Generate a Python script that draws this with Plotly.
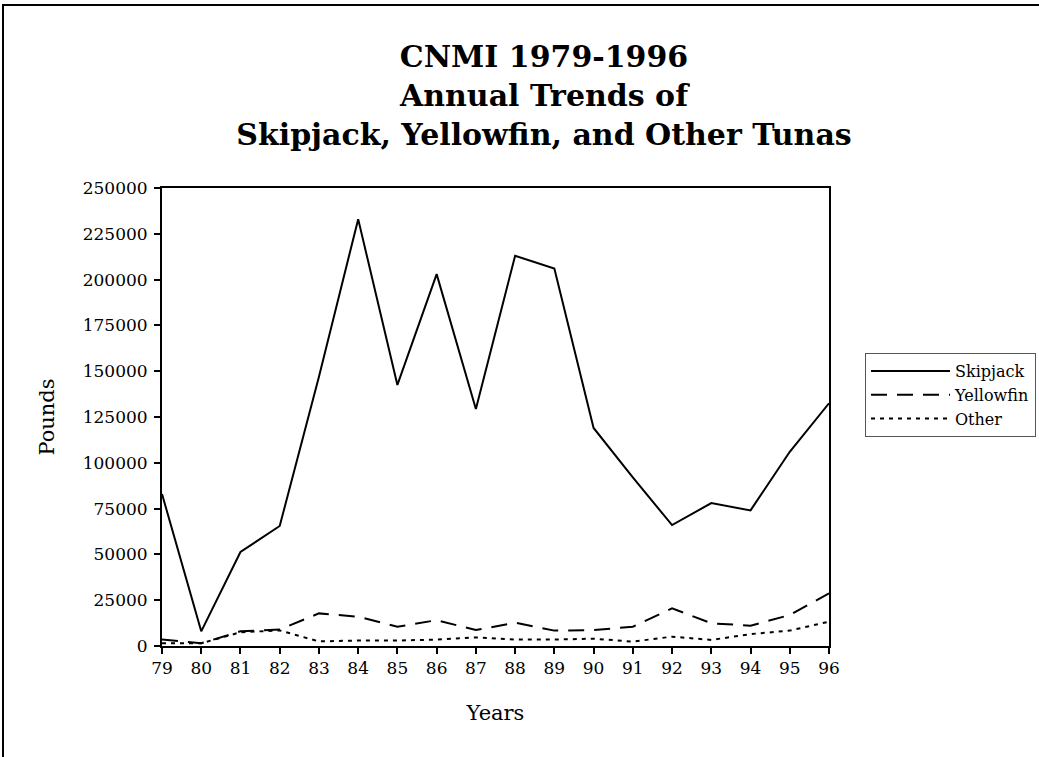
import plotly.graph_objects as go

years = list(range(79, 97))
year_labels = [str(y) for y in years]
skipjack = [83000, 8000, 51300, 65500, 147000, 233000, 142500, 203000, 129400,
            213000, 206000, 119000, 92000, 66000, 78000, 74000, 106000, 132500]
yellowfin = [3500, 1500, 8000, 9000, 17800, 16000, 10500, 14100, 8700,
             12700, 8400, 8700, 10500, 20600, 12400, 11100, 16900, 28700]
other = [1500, 1500, 7500, 8500, 2500, 3000, 3000, 3500, 4700,
         3500, 3500, 4000, 2400, 5100, 3300, 6500, 8400, 13300]
y_ticks = list(range(0, 250001, 25000))

FONT = "DejaVu Serif"
W, H = 1100, 757
L, R, T, B = 162, 829, 188, 646
pw, ph = R - L, B - T

fig = go.Figure()
fig.add_trace(go.Scatter(x=years, y=skipjack, mode="lines", name="Skipjack",
                         line=dict(color="black", width=2, dash="solid")))
fig.add_trace(go.Scatter(x=years, y=yellowfin, mode="lines", name="Yellowfin",
                         line=dict(color="black", width=2, dash="16px,10px")))
fig.add_trace(go.Scatter(x=years, y=other, mode="lines", name="Other",
                         line=dict(color="black", width=2, dash="4px,5px")))

fig.update_layout(
    width=W, height=H,
    margin=dict(l=L, r=W - R, t=T, b=H - B, pad=0),
    paper_bgcolor="white", plot_bgcolor="white",
    font=dict(family=FONT, color="black", size=17),
    title=dict(text="<b>CNMI 1979-1996<br>Annual Trends of<br>Skipjack, Yellowfin, and Other Tunas</b>",
               x=544 / W, xanchor="center", xref="container",
               y=1 - 67 / H, yanchor="top", yref="container",
               font=dict(family=FONT, size=30, color="black")),
    xaxis=dict(range=[79, 96], tickmode="array", tickvals=years, ticktext=year_labels,
               showgrid=False, zeroline=False, showline=True, linecolor="black",
               linewidth=2, mirror=True, ticks="outside", ticklen=6, tickwidth=2,
               tickcolor="black", tickfont=dict(family=FONT, size=17),
               title=dict(text="Years", font=dict(family=FONT, size=21), standoff=28)),
    yaxis=dict(range=[0, 250000], tickmode="array", tickvals=y_ticks,
               ticktext=[str(v) for v in y_ticks],
               showgrid=False, zeroline=False, showline=True, linecolor="black",
               linewidth=2, mirror=True, ticks="outside", ticklen=6, tickwidth=2,
               tickcolor="black", tickfont=dict(family=FONT, size=17),
               ticklabelstandoff=3,
               title=dict(text="Pounds", font=dict(family=FONT, size=21), standoff=22)),
    legend=dict(x=(865 - L) / pw, y=(B - 353) / ph, xanchor="left", yanchor="top",
                bordercolor="#555555", borderwidth=1, bgcolor="white",
                font=dict(family=FONT, size=16), tracegroupgap=0, itemwidth=79),
    showlegend=True,
)

# outer chart frame
fig.add_shape(type="rect", xref="paper", yref="paper",
              x0=(3 - L) / pw, x1=(1090 - L) / pw,
              y0=(B - 800) / ph, y1=(B - 5) / ph,
              line=dict(color="black", width=2), fillcolor="rgba(0,0,0,0)", layer="below")

fig.write_html(
    "out.html",
    config={"displayModeBar": False},
    post_script="document.body.style.margin='0';document.body.style.overflow='hidden';",
)
